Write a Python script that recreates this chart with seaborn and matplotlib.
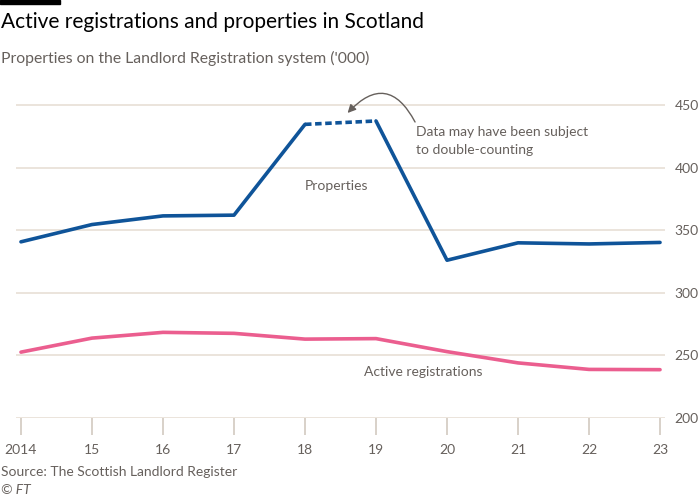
import matplotlib
matplotlib.use("Agg")
import matplotlib.pyplot as plt
import seaborn as sns
import pandas as pd
from matplotlib.patches import Rectangle

years = [2014, 2015, 2016, 2017, 2018, 2019, 2020, 2021, 2022, 2023]
properties = [340.7, 354.5, 361.4, 362.0, 434.5, 437.2, 326.0, 339.9, 339.0, 340.2]
registrations = [252.6, 263.8, 268.4, 267.6, 263.0, 263.4, 253.0, 244.0, 238.8, 238.6]
xtick_labels = ["2014", "15", "16", "17", "18", "19", "20", "21", "22", "23"]
yticks = [200, 250, 300, 350, 400, 450]
dotted_years = [2018, 2019]

BLUE = "#0F5499"
PINK = "#EB5E8F"
GRID = "#E7DFD6"
TICKC = "#D2C9C0"
GRAY = "#66605C"
FONT = ["Lato", "DejaVu Sans"]

sns.set_theme(style="white")
plt.rcParams["font.family"] = FONT

fig = plt.figure(figsize=(7, 5), dpi=100)
ax = fig.add_axes([16/700, (500-418)/500, (665-16)/700, (418-98.7)/500])

df = pd.DataFrame({"year": years, "properties": properties, "registrations": registrations})
i0, i1 = years.index(dotted_years[0]), years.index(dotted_years[1])
seg1 = df.iloc[:i0+1]
seg2 = df.iloc[i0:i1+1]
seg3 = df.iloc[i1:]

sns.lineplot(data=df, x="year", y="registrations", color=PINK, lw=2.6, ax=ax)
sns.lineplot(data=seg1, x="year", y="properties", color=BLUE, lw=2.6, ax=ax)
sns.lineplot(data=seg3, x="year", y="properties", color=BLUE, lw=2.6, ax=ax)
sns.lineplot(data=seg2, x="year", y="properties", color=BLUE, lw=2.6, ax=ax,
             linestyle=(0, (1.8, 1.0)))

ax.set_xlim(2013.93, 2023.07)
ax.set_ylim(200, 455)
ax.set_xticks(years)
ax.set_xticklabels(xtick_labels)
ax.set_yticks(yticks)
ax.set_yticklabels([str(v) for v in yticks])
ax.yaxis.tick_right()
ax.set_xlabel("")
ax.set_ylabel("")
for s in ax.spines.values():
    s.set_visible(False)
for v in yticks:
    ax.axhline(v, color=GRID, lw=1.2, zorder=0)
ax.tick_params(axis="y", length=0, pad=7, labelsize=10, labelcolor=GRAY)
ax.tick_params(axis="x", length=12, width=1.2, color=TICKC, pad=7,
               labelsize=10, labelcolor=GRAY, direction="out")
ax.tick_params(axis="x", bottom=True)
for lab in ax.get_yticklabels():
    lab.set_horizontalalignment("left")

ax.text(2018.44, 385.3, "Properties", color=GRAY, fontsize=10, ha="center", va="center")
ax.text(2019.66, 236.7, "Active registrations", color=GRAY, fontsize=10, ha="center", va="center")
ax.text(2019.56, 421.5, "Data may have been subject\nto double-counting", color=GRAY,
        fontsize=10, ha="left", va="center", linespacing=1.6)
ax.annotate("", xy=(2018.6, 443.6), xytext=(2019.55, 436.4),
            arrowprops=dict(arrowstyle="-|>", color=GRAY, lw=1.0,
                            connectionstyle="arc3,rad=0.7", mutation_scale=12,
                            shrinkA=0, shrinkB=0))

fig.patches.append(Rectangle((0, 1 - 4/500), 60/700, 4/500, transform=fig.transFigure,
                             color="black", zorder=10))
fig.text(1/700, 1 - 22/500, "Active registrations and properties in Scotland",
         fontsize=15, color="black", ha="left", va="center")
fig.text(1/700, 1 - 58/500, "Properties on the Landlord Registration system ('000)",
         fontsize=11.3, color=GRAY, ha="left", va="center")
fig.text(1/700, 1 - 472/500, "Source: The Scottish Landlord Register",
         fontsize=10, color=GRAY, ha="left", va="center")
fig.text(1/700, 1 - 490/500, "© FT", fontsize=10, color=GRAY, ha="left",
         va="center", style="italic")

fig.savefig("out.png", dpi=100, facecolor="white")
